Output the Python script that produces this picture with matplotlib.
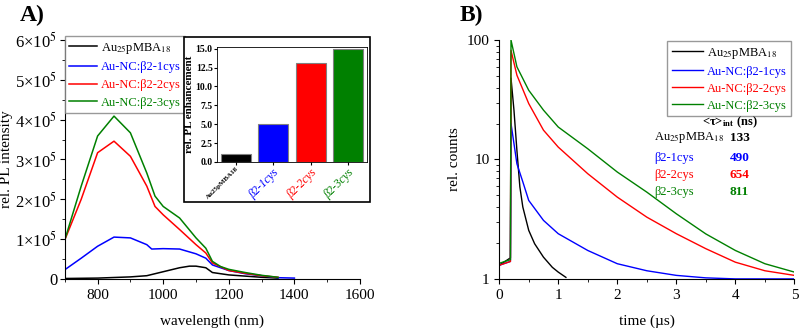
import matplotlib
matplotlib.use('Agg')
import matplotlib.pyplot as plt
from matplotlib.patches import Rectangle
from matplotlib.ticker import FuncFormatter, MultipleLocator, LogLocator, NullFormatter

plt.rcParams['font.family'] = 'Liberation Serif'
plt.rcParams['mathtext.fontset'] = 'stix'

colors = ['black', 'blue', 'red', 'green']
labels = ['Au$_{25}$pMBA$_{18}$', 'Au-NC:β2-1cys', 'Au-NC:β2-2cys', 'Au-NC:β2-3cys']

# PL spectra (x in nm, y in units of 1e5)
wl_black = [700, 800, 900, 950, 1000, 1050, 1080, 1100, 1130, 1150, 1200, 1250, 1300, 1350]
pl_black = [0.01, 0.02, 0.05, 0.08, 0.18, 0.28, 0.32, 0.32, 0.28, 0.16, 0.10, 0.07, 0.04, 0.02]
wl_blue = [700, 750, 800, 850, 900, 950, 965, 1000, 1050, 1100, 1130, 1150, 1200, 1250, 1300, 1350, 1400]
pl_blue = [0.23, 0.52, 0.82, 1.05, 1.03, 0.86, 0.75, 0.76, 0.75, 0.63, 0.52, 0.35, 0.21, 0.13, 0.08, 0.03, 0.02]
wl_red = [700, 750, 800, 850, 900, 950, 975, 1000, 1050, 1100, 1130, 1150, 1200, 1250, 1300, 1350]
pl_red = [0.98, 2.0, 3.17, 3.46, 3.08, 2.33, 1.82, 1.61, 1.24, 0.86, 0.65, 0.40, 0.21, 0.14, 0.08, 0.04]
wl_green = [700, 750, 800, 850, 900, 950, 975, 1000, 1050, 1100, 1130, 1150, 1175, 1200, 1250, 1300, 1350]
pl_green = [0.98, 2.33, 3.59, 4.09, 3.67, 2.66, 2.08, 1.82, 1.53, 1.03, 0.77, 0.44, 0.31, 0.24, 0.16, 0.09, 0.04]

# inset: PL enhancement
bar_names = ['Au25pMBA18', 'β2-1cys', 'β2-2cys', 'β2-3cys']
enhancement = [1.0, 5.05, 13.05, 15.0]

# decays (time in us, relative counts)
t_black = [0, 0.19, 0.2, 0.25, 0.3, 0.35, 0.4, 0.5, 0.6, 0.75, 0.9, 1.0, 1.13]
c_black = [1.3, 1.5, 48, 25.9, 11.9, 5.9, 4.0, 2.55, 1.97, 1.52, 1.25, 1.14, 1.03]
t_blue = [0, 0.19, 0.2, 0.25, 0.3, 0.4, 0.5, 0.75, 1.0, 1.5, 2.0, 2.5, 3.0, 3.5, 4.0, 5.0]
c_blue = [1.3, 1.4, 20, 13.6, 9.2, 6.5, 4.54, 3.09, 2.39, 1.73, 1.34, 1.17, 1.07, 1.02, 1.0, 1.0]
t_red = [0, 0.19, 0.2, 0.3, 0.5, 0.75, 1.0, 1.5, 2.0, 2.5, 3.0, 3.5, 4.0, 4.5, 5.0]
c_red = [1.3, 1.4, 82, 50.8, 29.4, 17.6, 12.7, 7.6, 4.84, 3.29, 2.39, 1.79, 1.38, 1.17, 1.07]
t_green = [0, 0.19, 0.2, 0.3, 0.5, 0.75, 1.0, 1.5, 2.0, 2.5, 3.0, 3.5, 4.0, 4.5, 5.0]
c_green = [1.35, 1.45, 100, 59.7, 38, 25.9, 18.7, 12.3, 7.85, 5.33, 3.51, 2.38, 1.73, 1.34, 1.14]

tau_names = ['Au$_{25}$pMBA$_{18}$', 'β2-1cys', 'β2-2cys', 'β2-3cys']
tau_values = [133, 490, 654, 811]

fig = plt.figure(figsize=(8, 3.34), dpi=100)

# ---- panel A ----
axA = fig.add_axes([0.081, 0.165, 0.369, 0.715])
spectra = [(wl_black, pl_black), (wl_blue, pl_blue), (wl_red, pl_red), (wl_green, pl_green)]
for (x, y), c, lab in zip(spectra, colors, labels):
    axA.plot(x, [v * 1e5 for v in y], color=c, lw=1.1, label=lab)
axA.set_xlim(700, 1600)
axA.set_ylim(0, 6e5)
axA.xaxis.set_major_locator(MultipleLocator(200))
axA.xaxis.set_minor_locator(MultipleLocator(100))
axA.yaxis.set_major_locator(MultipleLocator(1e5))
axA.yaxis.set_minor_locator(MultipleLocator(0.5e5))
axA.yaxis.set_major_formatter(FuncFormatter(
    lambda v, p: '0' if v == 0 else '%d×10$^{5}$' % round(v / 1e5)))
axA.spines['top'].set_visible(False)
axA.spines['right'].set_visible(False)
axA.tick_params(axis='x', labelsize=11)
axA.tick_params(axis='y', labelsize=12, pad=2)
axA.set_xlabel('wavelength (nm)', fontsize=11, labelpad=9)
axA.set_ylabel('rel. PL intensity', fontsize=11)
axA.yaxis.set_label_coords(-0.175, 0.5)
legA = axA.legend(loc='upper left', bbox_to_anchor=(0.0, 1.015), fontsize=9,
                  handlelength=2.2, borderpad=0.35, labelspacing=0.45,
                  handletextpad=0.35, borderaxespad=0.0, fancybox=False, edgecolor='gray')
for txt, c in zip(legA.get_texts(), colors):
    txt.set_color(c)
fig.text(0.025, 0.955, 'A)', fontsize=17, fontweight='bold', va='center')

# inset frame
fig.add_artist(Rectangle((0.230, 0.395), 0.233, 0.495, transform=fig.transFigure,
                         facecolor='white', edgecolor='black', lw=1.2, zorder=1.5))
axI = fig.add_axes([0.271, 0.515, 0.1875, 0.344], zorder=2)
axI.bar(range(len(enhancement)), enhancement, color=colors, edgecolor='gray', width=0.8, lw=0.8)
axI.set_xlim(-0.5, 3.5)
axI.set_ylim(0, 15.2)
axI.yaxis.set_major_locator(MultipleLocator(2.5))
axI.yaxis.set_major_formatter(FuncFormatter(lambda v, p: '%.1f' % v))
axI.set_xticks(range(len(enhancement)))
axI.set_xticklabels(bar_names, rotation=45, ha='right', rotation_mode='anchor')
for i, (lbl, c) in enumerate(zip(axI.get_xticklabels(), colors)):
    lbl.set_color(c)
    lbl.set_fontsize(5 if i == 0 else 8.5)
    lbl.set_fontstyle('normal' if i == 0 else 'italic')
    if i == 0:
        lbl.set_fontweight('bold')
for lbl in axI.get_yticklabels():
    lbl.set_fontweight('bold')
axI.tick_params(axis='y', labelsize=7, length=2, pad=1)
axI.tick_params(axis='x', length=2, pad=1)
axI.set_ylabel('rel. PL enhancement', fontsize=8, fontweight='bold', labelpad=1)
for s in axI.spines.values():
    s.set_linewidth(0.6)

# ---- panel B ----
axB = fig.add_axes([0.624, 0.165, 0.369, 0.715])
decays = [(t_black, c_black), (t_blue, c_blue), (t_red, c_red), (t_green, c_green)]
for (x, y), c, lab in zip(decays, colors, labels):
    axB.plot(x, y, color=c, lw=1.0, label=lab)
axB.set_yscale('log')
axB.set_xlim(0, 5)
axB.set_ylim(1, 100)
axB.xaxis.set_major_locator(MultipleLocator(1))
axB.xaxis.set_minor_locator(MultipleLocator(0.5))
axB.yaxis.set_major_formatter(FuncFormatter(lambda v, p: '%d' % v))
axB.yaxis.set_minor_locator(LogLocator(subs=range(2, 10)))
axB.yaxis.set_minor_formatter(NullFormatter())
axB.spines['top'].set_visible(False)
axB.spines['right'].set_visible(False)
axB.tick_params(labelsize=11)
axB.set_xlabel('time (µs)', fontsize=11, labelpad=9)
axB.set_ylabel('rel. counts', fontsize=11)
legB = axB.legend(loc='upper right', bbox_to_anchor=(0.99, 0.995), fontsize=9,
                  handlelength=2.5, borderpad=0.35, labelspacing=0.4,
                  handletextpad=0.35, borderaxespad=0.0, fancybox=False, edgecolor='gray')
for txt, c in zip(legB.get_texts(), colors):
    txt.set_color(c)
fig.text(0.575, 0.955, 'B)', fontsize=17, fontweight='bold', va='center')

fig.text(0.912, 0.635, r'<τ>$_{\mathbf{int}}$ (ns)', fontsize=9, fontweight='bold',
         ha='center', va='center')
row_y = [0.587, 0.527, 0.475, 0.425]
for name, val, c, y in zip(tau_names, tau_values, colors, row_y):
    fig.text(0.818, y, name, fontsize=9, color=c, va='center')
    fig.text(0.912, y, str(val), fontsize=9.5, color=c, fontweight='bold', va='center')

fig.savefig('out.png', dpi=100)
